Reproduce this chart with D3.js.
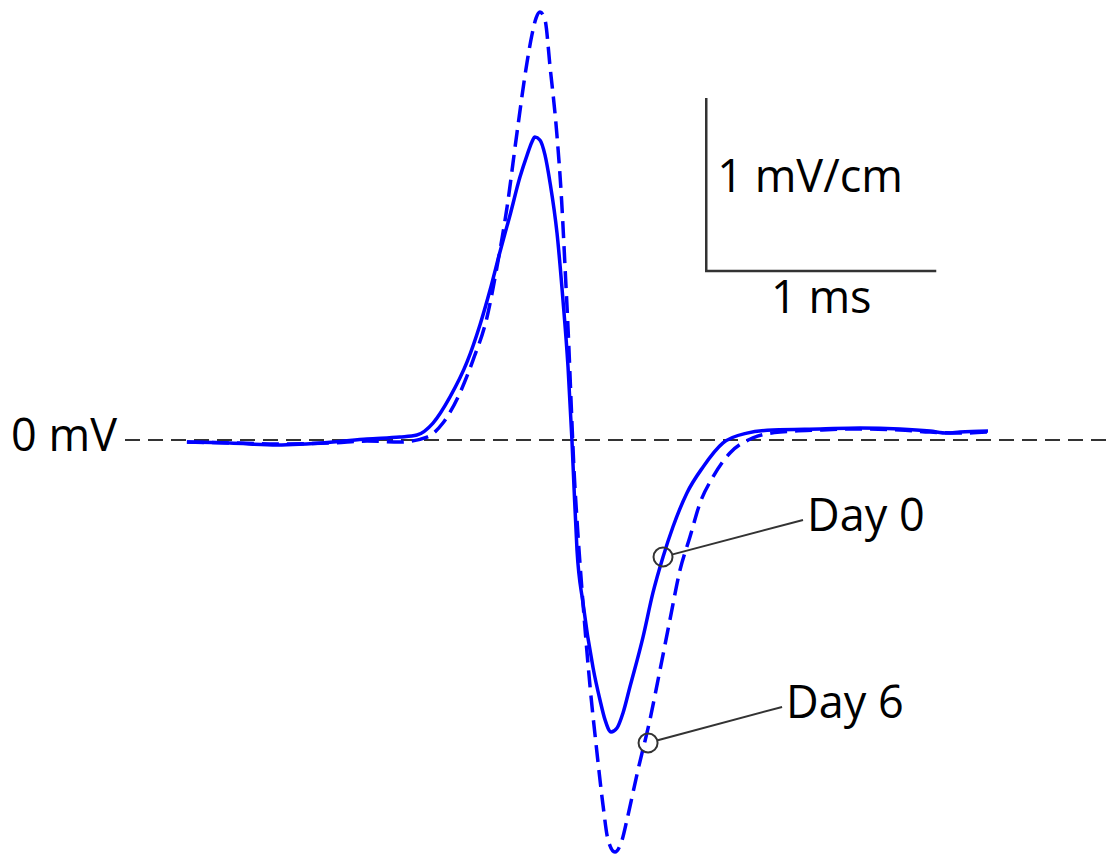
<!DOCTYPE html>
<html>
<head>
<meta charset="utf-8">
<script src="https://cdn.jsdelivr.net/npm/d3@7"></script>
<style>
  html, body { margin: 0; padding: 0; background: #fff; }
  svg { display: block; }
  text { font-family: "Open Sans", "Noto Sans", sans-serif; fill: #000; }
</style>
</head>
<body>
<svg id="chart" width="1112" height="856"></svg>
<script>
// Time (ms) and voltage (mV) samples
const day0Time = [0.004,0.191,0.396,0.639,0.787,0.930,1.004,1.074,1.148,1.222,1.278,1.322,1.365,1.409,1.452,1.483,1.504,1.517,1.539,1.561,1.583,1.613,1.639,1.661,1.678,1.687,1.700,1.726,1.770,1.800,1.822,1.848,1.874,1.900,1.930,1.987,2.030,2.074,2.117,2.178,2.248,2.335,2.439,2.552,2.757,2.930,3.104,3.235,3.309,3.365,3.487];
const day0Volt = [-0.012,-0.017,-0.029,-0.012,0.006,0.017,0.029,0.098,0.249,0.451,0.665,0.867,1.087,1.301,1.520,1.647,1.723,1.751,1.734,1.647,1.486,1.197,0.809,0.422,0.000,-0.272,-0.636,-0.942,-1.318,-1.503,-1.618,-1.688,-1.665,-1.578,-1.428,-1.139,-0.884,-0.676,-0.503,-0.306,-0.156,-0.017,0.040,0.058,0.064,0.069,0.064,0.052,0.040,0.046,0.052];

const day6Time = [0.004,0.191,0.396,0.639,0.787,0.930,1.048,1.117,1.191,1.248,1.309,1.352,1.396,1.439,1.483,1.504,1.522,1.539,1.561,1.583,1.612,1.633,1.648,1.662,1.677,1.687,1.700,1.726,1.757,1.787,1.813,1.835,1.865,1.896,1.917,1.965,2.017,2.061,2.104,2.148,2.191,2.235,2.291,2.365,2.465,2.583,2.757,2.930,3.104,3.235,3.365,3.487];
const day6Volt = [-0.012,-0.017,-0.023,-0.017,-0.006,-0.012,0.017,0.098,0.272,0.462,0.711,1.000,1.347,1.775,2.185,2.341,2.439,2.474,2.428,2.156,1.775,1.387,1.000,0.618,0.133,-0.173,-0.462,-0.942,-1.428,-1.809,-2.110,-2.312,-2.382,-2.312,-2.197,-1.908,-1.618,-1.329,-1.040,-0.751,-0.561,-0.364,-0.214,-0.075,0.012,0.046,0.058,0.064,0.058,0.046,0.040,0.046];

const seriesNames = ["Day 0", "Day 6"];
const markerTime = [2.074, 2.009];
const markerVolt = [-0.676, -1.751];
const zeroLabel = "0 mV";
const scaleBarLabels = ["1 mV/cm", "1 ms"];

const svg = d3.select("#chart");
const x = d3.scaleLinear().domain([0, 3.5]).range([186, 186 + 3.5 * 230]);
const y = d3.scaleLinear().domain([-2.5, 2.5]).range([440 + 2.5 * 173, 440 - 2.5 * 173]);

const blue = "#0000ff";
const dark = "#333333";
const fs = 45;

// zero baseline
svg.append("line")
  .attr("x1", 125).attr("x2", 1112)
  .attr("y1", y(0)).attr("y2", y(0))
  .attr("stroke", dark).attr("stroke-width", 2)
  .attr("stroke-dasharray", "15,8");

svg.append("text")
  .attr("x", 117).attr("y", y(0) + 11)
  .attr("text-anchor", "end")
  .attr("font-size", fs)
  .text(zeroLabel);

const line = d3.line()
  .x(d => x(d[0])).y(d => y(d[1]))
  .curve(d3.curveMonotoneX);

const day0 = day0Time.map((t, i) => [t, day0Volt[i]]);
const day6 = day6Time.map((t, i) => [t, day6Volt[i]]);

svg.append("path")
  .datum(day6)
  .attr("d", line)
  .attr("fill", "none")
  .attr("stroke", blue)
  .attr("stroke-width", 3.5)
  .attr("stroke-dasharray", "17,8");

svg.append("path")
  .datum(day0)
  .attr("d", line)
  .attr("fill", "none")
  .attr("stroke", blue)
  .attr("stroke-width", 3.5);

// scale bar
const sbT = 2.262, sbV = 0.977;
svg.append("path")
  .attr("d", `M${x(sbT)},${y(sbV + 1)} L${x(sbT)},${y(sbV)} L${x(sbT + 1)},${y(sbV)}`)
  .attr("fill", "none").attr("stroke", dark).attr("stroke-width", 2.5);

svg.append("text")
  .attr("x", x(sbT) + 11).attr("y", 192)
  .attr("font-size", fs)
  .text(scaleBarLabels[0]);
svg.append("text")
  .attr("x", x(sbT + 0.5)).attr("y", 313)
  .attr("text-anchor", "middle")
  .attr("font-size", fs)
  .text(scaleBarLabels[1]);

// callouts
const labelOffsets = [[140, -37], [134, -36]];
seriesNames.forEach((name, i) => {
  const cx = x(markerTime[i]), cy = y(markerVolt[i]);
  const [dx, dy] = labelOffsets[i];
  const ang = Math.atan2(dy, dx);
  svg.append("line")
    .attr("x1", cx + 10 * Math.cos(ang)).attr("y1", cy + 10 * Math.sin(ang))
    .attr("x2", cx + dx).attr("y2", cy + dy)
    .attr("stroke", dark).attr("stroke-width", 2);
  svg.append("circle")
    .attr("cx", cx).attr("cy", cy).attr("r", 9.5)
    .attr("fill", "none").attr("stroke", dark).attr("stroke-width", 2);
  svg.append("text")
    .attr("x", cx + dx + 4).attr("y", cy + dy + 11)
    .attr("font-size", fs)
    .text(name);
});
</script>
</body>
</html>
